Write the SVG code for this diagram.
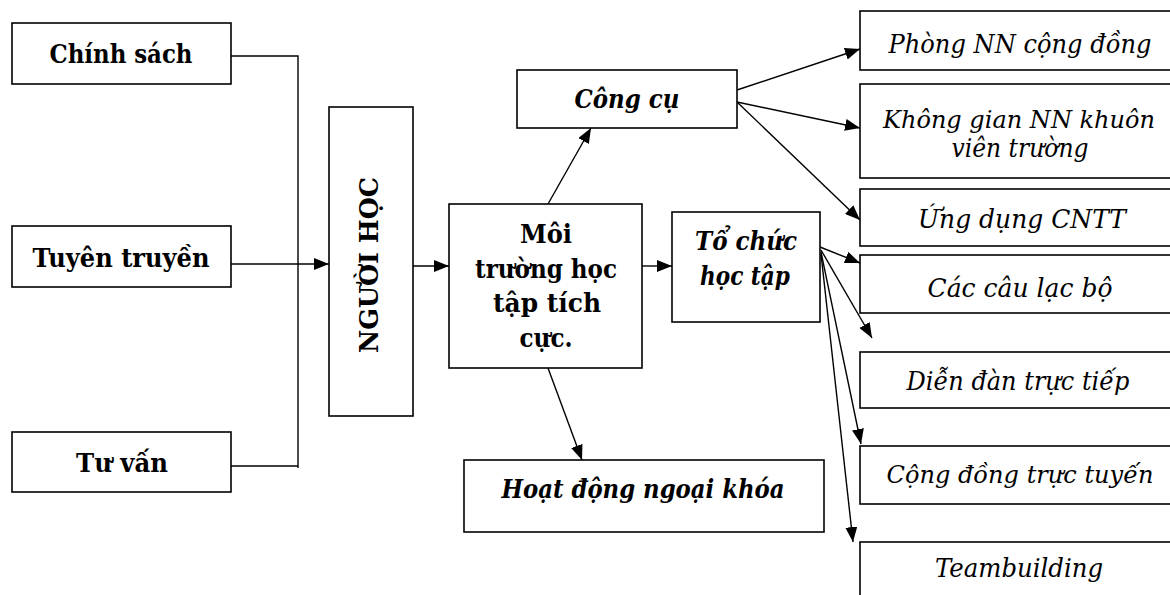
<svg xmlns="http://www.w3.org/2000/svg" width="1170" height="595" viewBox="0 0 1170 595">
<defs>
<marker id="arr" markerUnits="userSpaceOnUse" markerWidth="15" markerHeight="12" refX="15" refY="6" orient="auto">
<path d="M0,0 L15,6 L0,12 z" fill="#000"/>
</marker>
<style>
.box{fill:#fff;stroke:#000;stroke-width:1.6}
text{font-family:'DejaVu Serif','Liberation Serif',serif;font-size:26px;fill:#000;text-anchor:middle}
.b{font-weight:bold}
.bi{font-weight:bold;font-style:italic}
.i{font-style:italic}
.s{font-size:24px}
.c{fill:none;stroke:#000;stroke-width:1.4}
.ca{fill:none;stroke:#000;stroke-width:1.4;marker-end:url(#arr)}
</style>
</defs>
<rect width="1170" height="595" fill="#fff"/>
<g id="connectors">
<polyline class="c" points="231,56 298,56 298,468"/>
<line class="c" x1="231" y1="466" x2="298" y2="466"/>
<line class="ca" x1="231" y1="264" x2="329" y2="264"/>
<line class="ca" x1="413" y1="266" x2="449" y2="266"/>
<line class="ca" x1="642" y1="266" x2="672" y2="266"/>
<line class="ca" x1="548" y1="204" x2="591" y2="128"/>
<line class="ca" x1="548" y1="368" x2="582" y2="460"/>
<line class="ca" x1="737" y1="90" x2="860" y2="49"/>
<line class="ca" x1="737" y1="102" x2="860" y2="128"/>
<line class="ca" x1="737" y1="102" x2="860" y2="220"/>
<line class="ca" x1="820" y1="247" x2="860" y2="263"/>
<line class="ca" x1="821" y1="250" x2="872" y2="338"/>
<line class="ca" x1="821" y1="252" x2="861" y2="444"/>
<line class="ca" x1="821" y1="254" x2="853" y2="542"/>
</g>
<g id="chinh-sach"><rect class="box" x="12" y="23" width="219" height="61"/><text class="b" x="121" y="63" textLength="143" lengthAdjust="spacingAndGlyphs">Chính sách</text></g>
<g id="tuyen-truyen"><rect class="box" x="12" y="226" width="219" height="61"/><text class="b" x="121" y="267" textLength="177" lengthAdjust="spacingAndGlyphs">Tuyên truyền</text></g>
<g id="tu-van"><rect class="box" x="12" y="432" width="219" height="60"/><text class="b" x="122" y="472" textLength="92" lengthAdjust="spacingAndGlyphs">Tư vấn</text></g>
<g id="nguoi-hoc"><rect class="box" x="329" y="107" width="84" height="309"/><text class="b" transform="translate(378,265) rotate(-90)" textLength="176" lengthAdjust="spacingAndGlyphs">NGƯỜI HỌC</text></g>
<g id="moi-truong"><rect class="box" x="449" y="204" width="193" height="164"/>
<text class="b" x="546" y="243" textLength="52" lengthAdjust="spacingAndGlyphs">Môi</text><text class="b" x="546" y="278" textLength="142" lengthAdjust="spacingAndGlyphs">trường học</text><text class="b" x="547" y="312" textLength="108" lengthAdjust="spacingAndGlyphs">tập tích</text><text class="b" x="546" y="347" textLength="53" lengthAdjust="spacingAndGlyphs">cực.</text></g>
<g id="cong-cu"><rect class="box" x="517" y="70" width="220" height="58"/><text class="bi" x="627" y="108" textLength="105" lengthAdjust="spacingAndGlyphs">Công cụ</text></g>
<g id="to-chuc"><rect class="box" x="672" y="212" width="148" height="110"/><text class="bi" x="746" y="250" textLength="102" lengthAdjust="spacingAndGlyphs">Tổ chức</text><text class="bi" x="745" y="285" textLength="90" lengthAdjust="spacingAndGlyphs">học tập</text></g>
<g id="hoat-dong"><rect class="box" x="464" y="460" width="360" height="72"/><text class="bi" x="643" y="498" textLength="283" lengthAdjust="spacingAndGlyphs">Hoạt động ngoại khóa</text></g>
<g id="phong"><rect class="box" x="860" y="11" width="320" height="59"/><text class="i" x="1020" y="53" textLength="263" lengthAdjust="spacingAndGlyphs">Phòng NN cộng đồng</text></g>
<g id="khong-gian"><rect class="box" x="860" y="84" width="320" height="94"/><text class="i s" x="1019" y="128" textLength="272" lengthAdjust="spacingAndGlyphs">Không gian NN khuôn</text><text class="i" x="1020" y="157" textLength="137" lengthAdjust="spacingAndGlyphs">viên trường</text></g>
<g id="ung-dung"><rect class="box" x="860" y="189" width="320" height="57"/><text class="i" x="1022" y="228" textLength="208" lengthAdjust="spacingAndGlyphs">Ứng dụng CNTT</text></g>
<g id="cau-lac-bo"><rect class="box" x="860" y="255" width="320" height="58"/><text class="i" x="1020" y="297" textLength="185" lengthAdjust="spacingAndGlyphs">Các câu lạc bộ</text></g>
<g id="dien-dan"><rect class="box" x="860" y="352" width="320" height="56"/><text class="i" x="1018" y="390" textLength="223" lengthAdjust="spacingAndGlyphs">Diễn đàn trực tiếp</text></g>
<g id="cong-dong"><rect class="box" x="860" y="446" width="320" height="58"/><text class="i s" x="1020" y="483" textLength="267" lengthAdjust="spacingAndGlyphs">Cộng đồng trực tuyến</text></g>
<g id="teambuilding"><rect class="box" x="860" y="542" width="320" height="70"/><text class="i" x="1019" y="577" textLength="168" lengthAdjust="spacingAndGlyphs">Teambuilding</text></g>
</svg>
